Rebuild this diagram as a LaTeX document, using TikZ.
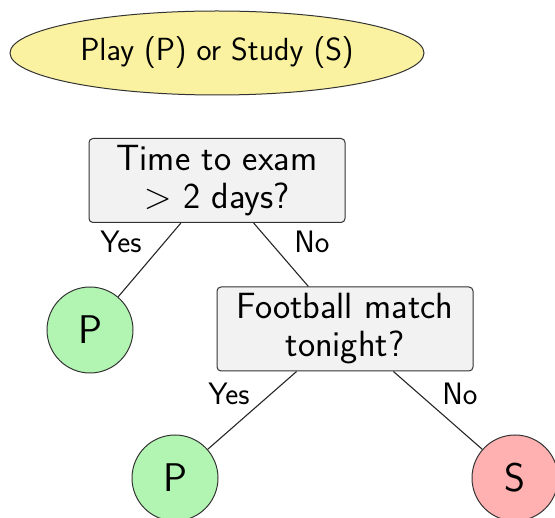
\RequirePackage{fix-cm}
\documentclass[tikz,border=0pt]{standalone}
\usetikzlibrary{shapes.geometric}
\definecolor{ellfill}{RGB}{250,242,160}
\definecolor{pfill}{RGB}{178,245,178}
\definecolor{sfill}{RGB}{255,176,176}
\definecolor{boxfill}{RGB}{242,242,242}
\tikzset{
  title/.style={ellipse, draw=black!80, line width=1pt, fill=ellfill, minimum width=414pt, minimum height=84pt, inner sep=0pt, font=\sffamily\fontsize{32}{38}\selectfont},
  qbox/.style={rectangle, rounded corners=4pt, draw=black!80, line width=1pt, fill=boxfill, minimum width=256pt, minimum height=84pt, inner sep=0pt, align=center, font=\sffamily\fontsize{36.5}{38}\selectfont},
  leaf/.style={circle, draw=black!80, line width=1pt, minimum size=86pt, inner sep=0pt, font=\sffamily\fontsize{40}{48}\selectfont},
  lbl/.style={inner sep=0pt, font=\sffamily\fontsize{31}{36}\selectfont},
  conn/.style={draw=black!85, line width=1.1pt}
}
\begin{document}
\begin{tikzpicture}[x=1pt,y=-1pt]
\useasboundingbox (0,0) rectangle (555,518);
\node[title] (t) at (217,53) {Play (P) or Study (S)};
\node[qbox] (root) at (217,180.5) {Time to exam\\$>$ 2 days?};
\node[leaf, fill=pfill] (p1) at (90,330) {P};
\node[qbox] (fb) at (345,329) {Football match\\tonight?};
\node[leaf, fill=pfill] (p2) at (175,478) {P};
\node[leaf, fill=sfill] (s) at (515,478) {S};
\draw[conn] (root) -- (p1);
\draw[conn] (root) -- (fb);
\draw[conn] (fb) -- (p2);
\draw[conn] (fb) -- (s);
\node[lbl] (y1) at (121,242) {Yes};
\node[lbl] (n1) at (312,242) {No};
\node[lbl] (y2) at (229,394) {Yes};
\node[lbl] (n2) at (460,394) {No};
\end{tikzpicture}
\end{document}
